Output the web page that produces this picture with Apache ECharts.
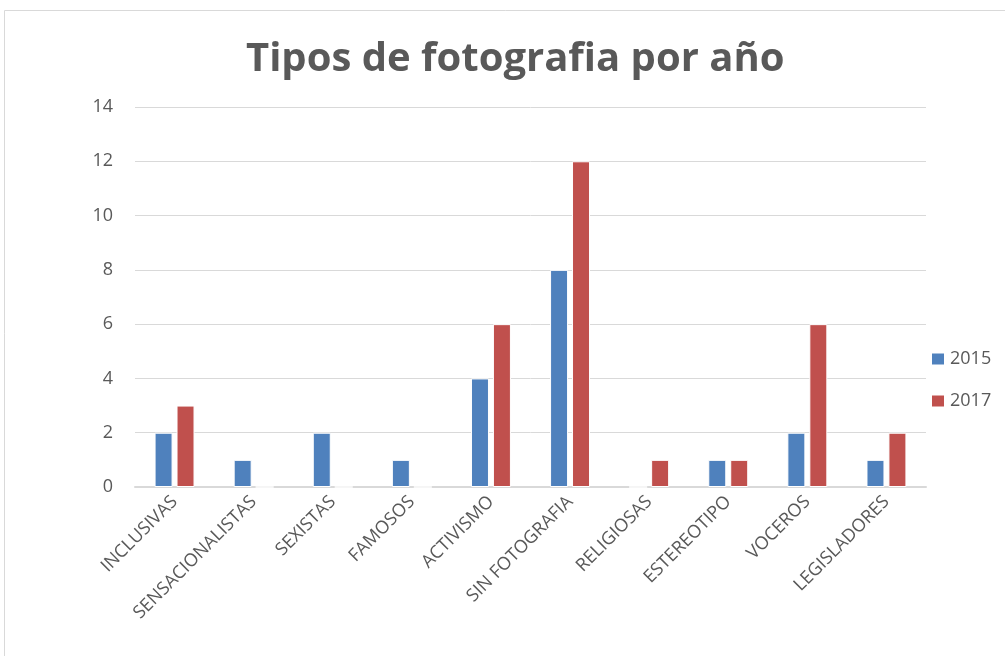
<!DOCTYPE html>
<html>
<head>
<meta charset="utf-8">
<script src="https://cdn.jsdelivr.net/npm/echarts@6/dist/echarts.min.js"></script>
<style>
  html, body { margin: 0; padding: 0; background: #fff; }
  #chart { width: 1005px; height: 656px; }
</style>
</head>
<body>
<div id="chart"></div>
<script>
var categories = ['INCLUSIVAS', 'SENSACIONALISTAS', 'SEXISTAS', 'FAMOSOS', 'ACTIVISMO',
  'SIN FOTOGRAFIA', 'RELIGIOSAS', 'ESTEREOTIPO', 'VOCEROS', 'LEGISLADORES'];
var values2015 = [2, 1, 2, 1, 4, 8, 0, 1, 2, 1];
var values2017 = [3, 0, 0, 0, 6, 12, 1, 1, 6, 2];

var textColor = '#595959';
var font = '"Open Sans", "Noto Sans", sans-serif';

var mChart = echarts.init(document.getElementById('chart'));
mChart.setOption({
    animation: false,
    textStyle: { fontFamily: font },
    graphic: [{
        type: 'rect',
        shape: { x: 4.5, y: 10.5, width: 1010, height: 660 },
        style: { fill: 'none', stroke: '#d9d9d9', lineWidth: 1 },
        silent: true
    }],
    title: {
        text: 'Tipos de fotografia por año',
        left: 246,
        top: 40,
        padding: 0,
        textStyle: { fontSize: 40, fontWeight: 'bold', color: textColor, fontFamily: font }
    },
    legend: {
        orient: 'vertical',
        left: 925,
        top: 345,
        itemWidth: 14,
        itemHeight: 13,
        itemGap: 24,
        icon: 'rect',
        textStyle: { fontSize: 18, color: textColor }
    },
    grid: { left: 135, right: 79, top: 107, bottom: 169, containLabel: false },
    xAxis: {
        type: 'category',
        data: categories,
        axisLine: { lineStyle: { color: '#d9d9d9', width: 2 } },
        axisTick: { show: false },
        axisLabel: { rotate: 45, interval: 0, fontSize: 18, color: textColor, margin: 12 }
    },
    yAxis: {
        type: 'value',
        min: 0,
        max: 14,
        interval: 2,
        axisLine: { show: false },
        axisTick: { show: false },
        axisLabel: { fontSize: 18, color: textColor, margin: 22 },
        splitLine: { lineStyle: { color: '#d9d9d9', width: 1 } }
    },
    series: [{
        name: '2015',
        type: 'bar',
        data: values2015,
        barWidth: 18,
        barGap: '22%',
        itemStyle: { color: '#4F81BD', borderColor: '#fff', borderWidth: 1 }
    }, {
        name: '2017',
        type: 'bar',
        data: values2017,
        barWidth: 18,
        itemStyle: { color: '#C0504D', borderColor: '#fff', borderWidth: 1 }
    }]
});
</script>
</body>
</html>
